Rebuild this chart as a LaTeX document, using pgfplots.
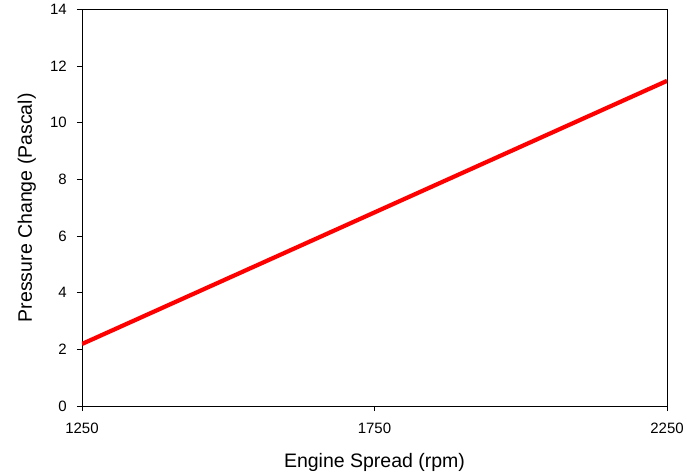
\documentclass[border=0pt]{standalone}
\usepackage{pgfplots}
\pgfplotsset{compat=1.18}
\usepackage{fontspec}
\setmainfont{Liberation Sans}
\begin{document}
\begin{tikzpicture}
\useasboundingbox (-82pt,-68pt) rectangle (605pt,406pt);
\begin{axis}[
  at={(0,0)}, anchor=south west,
  scale only axis,
  width=585pt, height=396.5pt,
  xmin=1250, xmax=2250, ymin=0, ymax=14,
  xtick={1250,1750,2250}, ytick={0,2,...,14},
  tick pos=left,
  tick align=outside, major tick length=5pt,
  tick style={black, line width=0.8pt},
  axis line style={line width=0.8pt},
  /pgf/number format/assume math mode=true,
  /pgf/number format/1000 sep={},
  ticklabel style={font=\fontsize{15}{18}\selectfont, inner sep=0pt},
  xticklabel style={anchor=base, yshift=-22pt},
  yticklabel style={anchor=east, xshift=-10pt},
  label style={font=\fontsize{19.5}{23}\selectfont},
  xlabel={Engine Spread (rpm)},
  ylabel={Pressure Change (Pascal)},
  xlabel style={at={(rel axis cs:0.5,0)}, anchor=base, yshift=-61pt},
  ylabel style={at={(rel axis cs:0,0.5)}, anchor=base, rotate=0, yshift=50pt},
]
\addplot[color={rgb,255:red,255;green,0;blue,0}, line width=4.2pt, line cap=butt] coordinates {(1250,2.19) (2250,11.48)};
\end{axis}
\end{tikzpicture}
\end{document}
